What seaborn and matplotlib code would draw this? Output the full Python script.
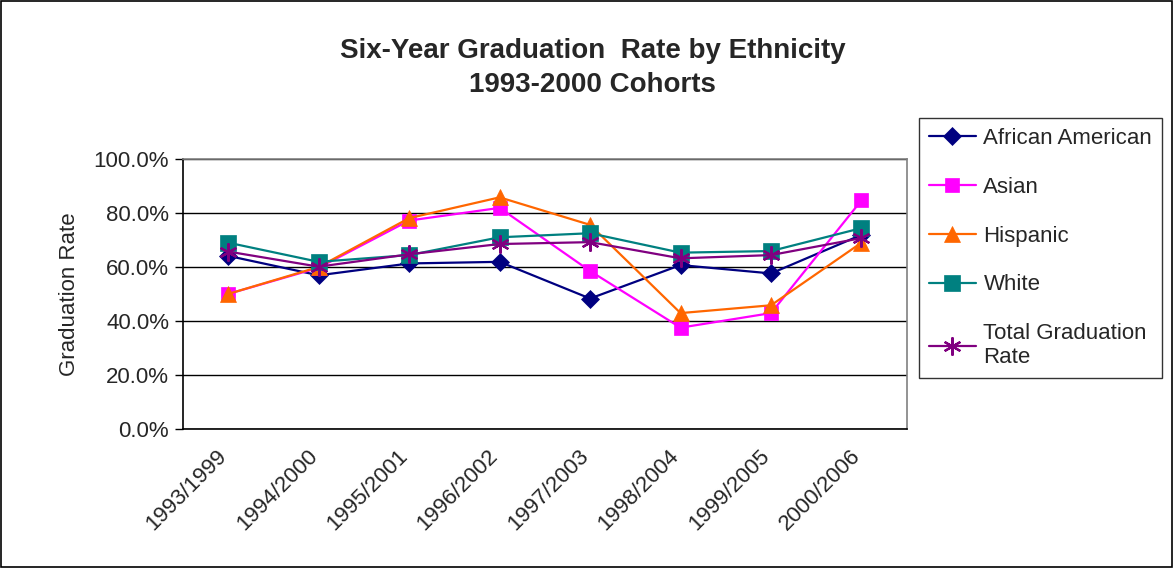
import matplotlib
matplotlib.use("Agg")
import matplotlib.pyplot as plt
import matplotlib.transforms as mtransforms
import seaborn as sns
import pandas as pd
from matplotlib.ticker import FixedLocator, PercentFormatter

cohorts = ["1993/1999", "1994/2000", "1995/2001", "1996/2002",
           "1997/2003", "1998/2004", "1999/2005", "2000/2006"]
african_american = [64.1, 56.9, 61.3, 61.9, 48.3, 60.7, 57.6, 71.9]
asian = [50.0, 59.7, 77.2, 81.9, 58.5, 37.5, 42.9, 84.7]
hispanic = [50.0, 60.0, 78.1, 85.8, 75.6, 42.9, 45.8, 69.0]
white = [69.0, 61.9, 64.4, 71.0, 72.5, 65.3, 65.9, 74.4]
total = [65.7, 60.1, 64.7, 68.5, 69.2, 63.2, 64.4, 70.7]

series = {
    "African American": (african_american, "#000080", "D", 9),
    "Asian": (asian, "#FF00FF", "s", 10),
    "Hispanic": (hispanic, "#FF6600", "^", 11),
    "White": (white, "#008080", "s", 11),
    "Total Graduation\nRate": (total, "#800080", (6, 2, 0), 13),
}

sns.set_style("white")
plt.rcParams["font.family"] = ["Liberation Sans", "DejaVu Sans"]

fig = plt.figure(figsize=(11.73, 5.68), dpi=100)
ax = fig.add_axes([0.156, 0.245, 0.617, 0.475])

x = list(range(len(cohorts)))
for name, (vals, color, marker, ms) in series.items():
    df = pd.DataFrame({"x": x, "y": vals})
    sns.lineplot(data=df, x="x", y="y", ax=ax, color=color, marker=marker,
                 markersize=ms, markeredgecolor=color,
                 markeredgewidth=1.6 if marker == (6, 2, 0) else 0.5,
                 linewidth=1.6, label=name)

ax.set_xlim(-0.5, 7.5)
ax.set_ylim(0, 100)
ax.yaxis.set_major_locator(FixedLocator([0, 20, 40, 60, 80, 100]))
ax.yaxis.set_major_formatter(PercentFormatter(decimals=1))
ax.grid(axis="y", color="black", linewidth=1.0)
ax.set_axisbelow(True)

ax.set_xticks(x)
ax.set_xticklabels(cohorts, rotation=45, ha="right", rotation_mode="anchor")
ax.set_xticks([i - 0.5 for i in range(len(cohorts) + 1)], minor=True)
ax.tick_params(axis="x", which="major", length=0, labelsize=16, pad=12)
ax.tick_params(axis="x", which="minor", length=6, width=1, direction="out", color="black")
ax.tick_params(axis="y", length=6, width=1, direction="out", color="black",
               labelsize=16, left=True, pad=4)
shift = mtransforms.ScaledTranslation(-12 / 100, 0, fig.dpi_scale_trans)
for lbl in ax.get_xticklabels():
    lbl.set_transform(lbl.get_transform() + shift)

for side in ["left", "bottom"]:
    ax.spines[side].set_color("black")
    ax.spines[side].set_linewidth(1.2)
for side in ["top", "right"]:
    ax.spines[side].set_color("#808080")
    ax.spines[side].set_linewidth(1.2)

ax.set_xlabel("")
ax.set_ylabel("Graduation Rate", fontsize=16, labelpad=10)

leg = ax.legend(loc="upper left", bbox_to_anchor=(919 / 1173, 1 - 118 / 568),
                bbox_transform=fig.transFigure, fontsize=16,
                frameon=True, fancybox=False, edgecolor="black", handlelength=2.1,
                labelspacing=1.25, borderpad=0.45, borderaxespad=0, handletextpad=0.35)
leg.get_frame().set_linewidth(1.0)

fig.text(0.505, 1 - 68 / 568, "Six-Year Graduation  Rate by Ethnicity\n1993-2000 Cohorts",
         ha="center", va="center", fontsize=20, fontweight="bold", linespacing=1.45)

fig.patches.append(plt.Rectangle((0.001, 0.001), 0.998, 0.998, transform=fig.transFigure,
                                 fill=False, edgecolor="black", linewidth=1.2))

fig.savefig("out.png", dpi=100)
